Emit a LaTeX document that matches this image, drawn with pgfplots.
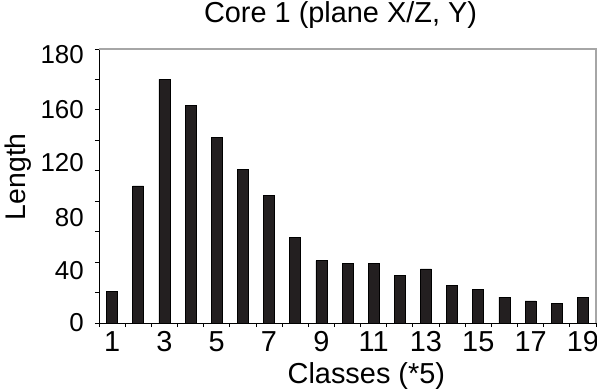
\documentclass[border=0pt]{standalone}
\usepackage{fontspec}
\setmainfont{Liberation Sans}
\usepackage{pgfplots}
\pgfplotsset{compat=1.18}
\definecolor{barfill}{HTML}{231F20}
\definecolor{framegray}{HTML}{A6A6A6}
\begin{document}
\begin{tikzpicture}
\begin{axis}[
  at={(0,0)}, anchor=south west,
  scale only axis, width=497bp, height=274bp,
  xmin=0.5, xmax=19.5, ymin=0, ymax=180,
  axis x line*=bottom, axis y line*=left,
  axis line style={-, black, line width=0.8pt},
  tick align=outside, major tick length=4bp,
  tick style={black, line width=0.8pt},
  xtick={0.5,1.5,...,19.5}, xticklabels={},
  ytick={0,20,...,180}, yticklabels={},
  extra x ticks={1,3,...,19},
  extra x tick labels={1,3,5,7,9,11,13,15,17,19},
  extra y ticks={0,34.5,69,105.1,140.1,176.3},
  extra y tick labels={0,40,80,120,160,180},
  extra tick style={major tick length=0pt},
  /pgf/number format/assume math mode=true,
  ticklabel style={inner sep=0pt},
  xticklabel style={font=\fontsize{29}{34}\selectfont, anchor=north, yshift=-8bp},
  yticklabel style={font=\fontsize{26}{30}\selectfont, anchor=east, xshift=-15bp},
  title={Core 1 (plane X/Z, Y)},
  title style={font=\fontsize{29}{34}\selectfont, anchor=base,
    at={(axis description cs:0.486,1.0755)}, inner sep=0pt},
  xlabel={Classes (*5)},
  xlabel style={font=\fontsize{29}{34}\selectfont, anchor=base,
    at={(axis description cs:0.538,-0.219)}, inner sep=0pt},
  ylabel={Length},
  ylabel style={font=\fontsize{28.5}{34}\selectfont, anchor=center,
    at={(axis description cs:-0.162,0.534)}, inner sep=0pt},
  clip=false,
]
\addplot[ybar, bar width=0.42, fill=barfill, draw=black, line width=0.6pt]
  coordinates {
    (1,21) (2,90) (3,160) (4,143) (5,122) (6,101) (7,84) (8,56)
    (9,41) (10,39) (11,39) (12,31.5) (13,35.5) (14,24.5) (15,22)
    (16,17) (17,14.5) (18,13) (19,17)
  };
% light frame along the top and right edges of the plot area
\draw[framegray, line width=1.3pt]
  (rel axis cs:0,1) -- (rel axis cs:1,1) -- (rel axis cs:1,0);
\end{axis}
\pgfresetboundingbox
\useasboundingbox (-99bp,-69bp) rectangle (498bp,323bp);
\end{tikzpicture}
\end{document}
